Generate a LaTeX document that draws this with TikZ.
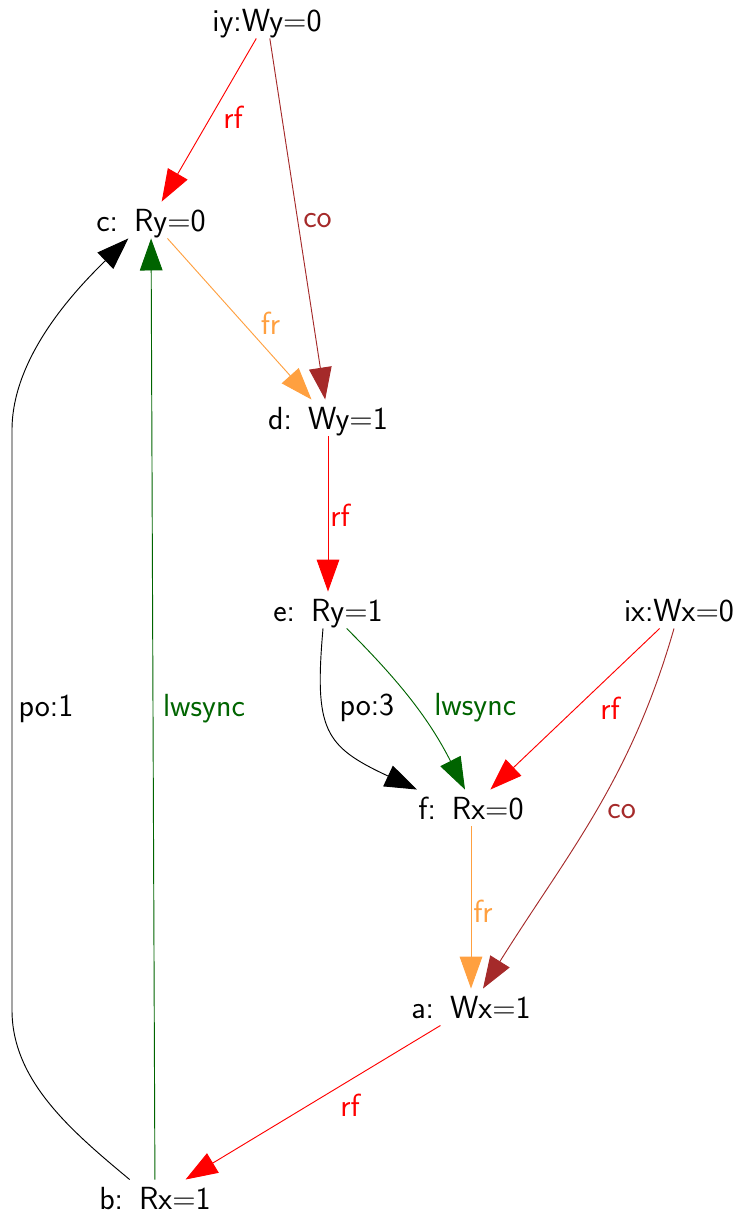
\documentclass[tikz,border=0pt]{standalone}
\usetikzlibrary{arrows.meta}
\definecolor{rfred}{RGB}{255,0,0}
\definecolor{cobrown}{RGB}{165,42,42}
\definecolor{frorange}{RGB}{255,160,64}
\definecolor{syncgreen}{RGB}{0,100,0}
\tikzset{ev/.style={inner xsep=2pt,inner ysep=0pt,text height=21.75pt,text depth=5.25pt},
lab/.style={inner sep=0pt}}
\newcommand\gap{\hspace{.5em}}
\begin{document}
\begin{tikzpicture}[x=.75pt,y=-.75pt,font=\fontsize{24}{28}\selectfont\sffamily,line join=round,line width=.7pt,>={Triangle[length=24pt,width=17pt]}]
\useasboundingbox (0,0) rectangle (741,1222);
\path
(267,20) node[ev](iy){iy:Wy=0}
(151,220) node[ev](c){c:\gap Ry=0}
(328,418) node[ev](d){d:\gap Wy=1}
(328,610) node[ev](e){e:\gap Ry=1}
(679,610) node[ev](ix){ix:Wx=0}
(471,808) node[ev](f){f:\gap Rx=0}
(471,1007) node[ev](a){a:\gap Wx=1}
(155,1198) node[ev](b){b:\gap Rx=1};
% straight edges
\foreach \s/\t/\col/\txt/\dx/\dy in {iy/c/rfred/rf/24/-3,iy/d/cobrown/co/20/2,c/d/frorange/fr/31/4,d/e/rfred/rf/12/1,ix/f/rfred/rf/35/-1,f/a/frorange/fr/12/4,a/b/rfred/rf/37/3,b/c/syncgreen/lwsync/51/0}
\draw[->,\col] (\s)--(\t) node[lab,midway,shift={(\dx,\dy)}](l\s\t){\txt};
% curved edges
\draw[->] ([xshift=-3.75pt]e.south) to[out=-95,in=155,looseness=1.4] node[lab,shift={(35,-23)}](lpoef){po:3} ([xshift=-40.5pt]f.north);
\draw[->,syncgreen] ([xshift=14pt]e.south) to[out=-45,in=117] node[lab,shift={(62,4)}](lsyncef){lwsync} ([xshift=-4.5pt]f.north);
\draw[->,cobrown] ([xshift=-3.75pt]ix.south) to[out=-106,in=58] node[lab,shift={(28,-4)}](lcoixa){co} ([xshift=9pt]a.north);
\draw[->] ([xshift=-19pt]b.north) .. controls (70,1130) and (12,1080) .. (12,1010)
 -- node[lab,shift={(34,-11)}](lpobc){po:1} (12,430) .. controls (12,360) and (70,295) .. ([xshift=-17pt]c.south);
\end{tikzpicture}
\end{document}
